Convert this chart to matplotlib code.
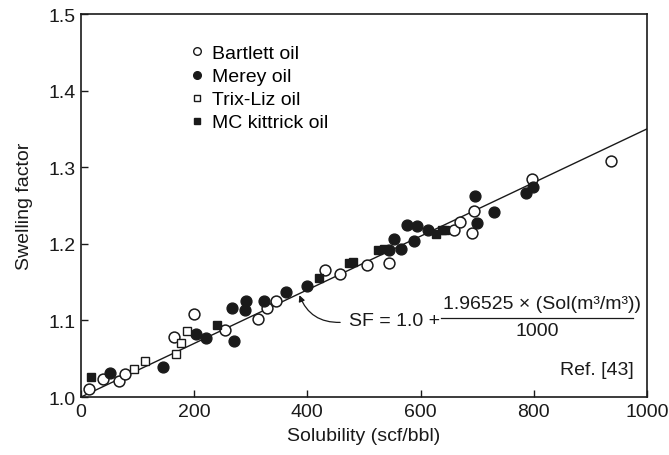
import matplotlib
matplotlib.use("Agg")
import matplotlib.pyplot as plt
import numpy as np
from matplotlib.lines import Line2D

plt.rcParams['font.family'] = ['Liberation Sans', 'DejaVu Sans']

# Data
bartlett_x = [15, 39, 67, 77, 165, 200, 255, 312, 329, 345, 432, 457, 506, 545, 659, 670, 691, 694, 797, 937]
bartlett_y = [1.010, 1.0235, 1.021, 1.030, 1.078, 1.108, 1.087, 1.102, 1.116, 1.125, 1.166, 1.161, 1.173,
              1.175, 1.218, 1.229, 1.214, 1.243, 1.285, 1.308]

merey_x = [51, 145, 203, 221, 267, 270, 289, 291, 324, 363, 399, 544, 553, 565, 576, 589, 594, 614, 697, 699, 730, 787, 798]
merey_y = [1.032, 1.039, 1.083, 1.077, 1.116, 1.073, 1.114, 1.126, 1.125, 1.137, 1.145, 1.192, 1.207, 1.193,
           1.224, 1.204, 1.223, 1.218, 1.262, 1.227, 1.241, 1.266, 1.274]

trixliz_x = [94, 113, 168, 176, 188]
trixliz_y = [1.0365, 1.047, 1.056, 1.0705, 1.0866]

mck_x = [18, 240, 421, 473, 480, 524, 535, 628, 638, 644]
mck_y = [1.0265, 1.094, 1.155, 1.175, 1.1766, 1.192, 1.193, 1.213, 1.218, 1.218]

# correlation line: SF = 1.0 + 1.96525 * Sol(m3/m3) / 1000, Sol in scf/bbl converted
coef = 1.96525
scf_bbl_to_m3m3 = 0.17811
line_x = np.array([0, 1000])
line_y = 1.0 + coef * line_x * scf_bbl_to_m3m3 / 1000

xticks = [0, 200, 400, 600, 800, 1000]
yticks = [1.0, 1.1, 1.2, 1.3, 1.4, 1.5]

FS = 14
INK = '#1a1a1a'

fig = plt.figure(figsize=(6.69, 4.56), dpi=100)
ax = fig.add_axes([0.121, 0.127, 0.846, 0.840])

ax.plot(line_x, line_y, color=INK, lw=1.0, zorder=1)

ms_c = 7.8
ms_s = 6.3
ax.plot(bartlett_x, bartlett_y, 'o', ms=ms_c, mfc='white', mec=INK, mew=1.1, ls='none', zorder=3)
ax.plot(merey_x, merey_y, 'o', ms=ms_c, mfc=INK, mec=INK, ls='none', zorder=3)
ax.plot(trixliz_x, trixliz_y, 's', ms=ms_s, mfc='white', mec=INK, mew=1.0, ls='none', zorder=3)
ax.plot(mck_x, mck_y, 's', ms=ms_s, mfc=INK, mec=INK, ls='none', zorder=3)

handles = [
    Line2D([], [], marker='o', ms=5.5, mfc='white', mec=INK, mew=1.0, ls='none'),
    Line2D([], [], marker='o', ms=5.5, mfc=INK, mec=INK, ls='none'),
    Line2D([], [], marker='s', ms=5, mfc='white', mec=INK, mew=1.0, ls='none'),
    Line2D([], [], marker='s', ms=5, mfc=INK, mec=INK, ls='none'),
]
labels = ['Bartlett oil', 'Merey oil', 'Trix-Liz oil', 'MC kittrick oil']
ax.legend(handles, labels, loc='upper left', bbox_to_anchor=(0.195, 0.92), frameon=False,
          fontsize=FS, handlelength=0.6, handletextpad=0.45, labelspacing=0.28, borderaxespad=0,
          borderpad=0)

ax.set_xlim(0, 1000)
ax.set_ylim(1.0, 1.5)
ax.set_xticks(xticks)
ax.set_yticks(yticks)
ax.set_xticklabels([str(t) for t in xticks])
ax.set_yticklabels([f"{t:.1f}" for t in yticks])
ax.tick_params(direction='in', length=5, width=1.0, labelsize=FS, colors=INK, pad=4)
for s in ax.spines.values():
    s.set_linewidth(1.2)
    s.set_color(INK)

ax.set_xlabel('Solubility (scf/bbl)', fontsize=FS, color=INK, labelpad=5)
ax.set_ylabel('Swelling factor', fontsize=FS, color=INK, labelpad=11)

# equation annotation
ax.annotate('', xy=(386, 1.133), xytext=(458, 1.0975),
            arrowprops=dict(arrowstyle='-|>', color=INK, lw=0.9,
                            mutation_scale=9, connectionstyle='arc3,rad=-0.35',
                            shrinkA=0, shrinkB=0))
ax.text(634, 1.0996, 'SF = 1.0 +', ha='right', va='center', fontsize=FS, color=INK)
ax.text(814, 1.1227, '1.96525 × (Sol(m³/m³))', ha='center', va='center', fontsize=FS, color=INK)
ax.plot([636, 975], [1.1035, 1.1035], color=INK, lw=0.9)
ax.text(806, 1.0866, '1000', ha='center', va='center', fontsize=FS, color=INK)
ax.text(977, 1.0366, 'Ref. [43]', ha='right', va='center', fontsize=FS, color=INK)

fig.savefig('out.png', dpi=100)
